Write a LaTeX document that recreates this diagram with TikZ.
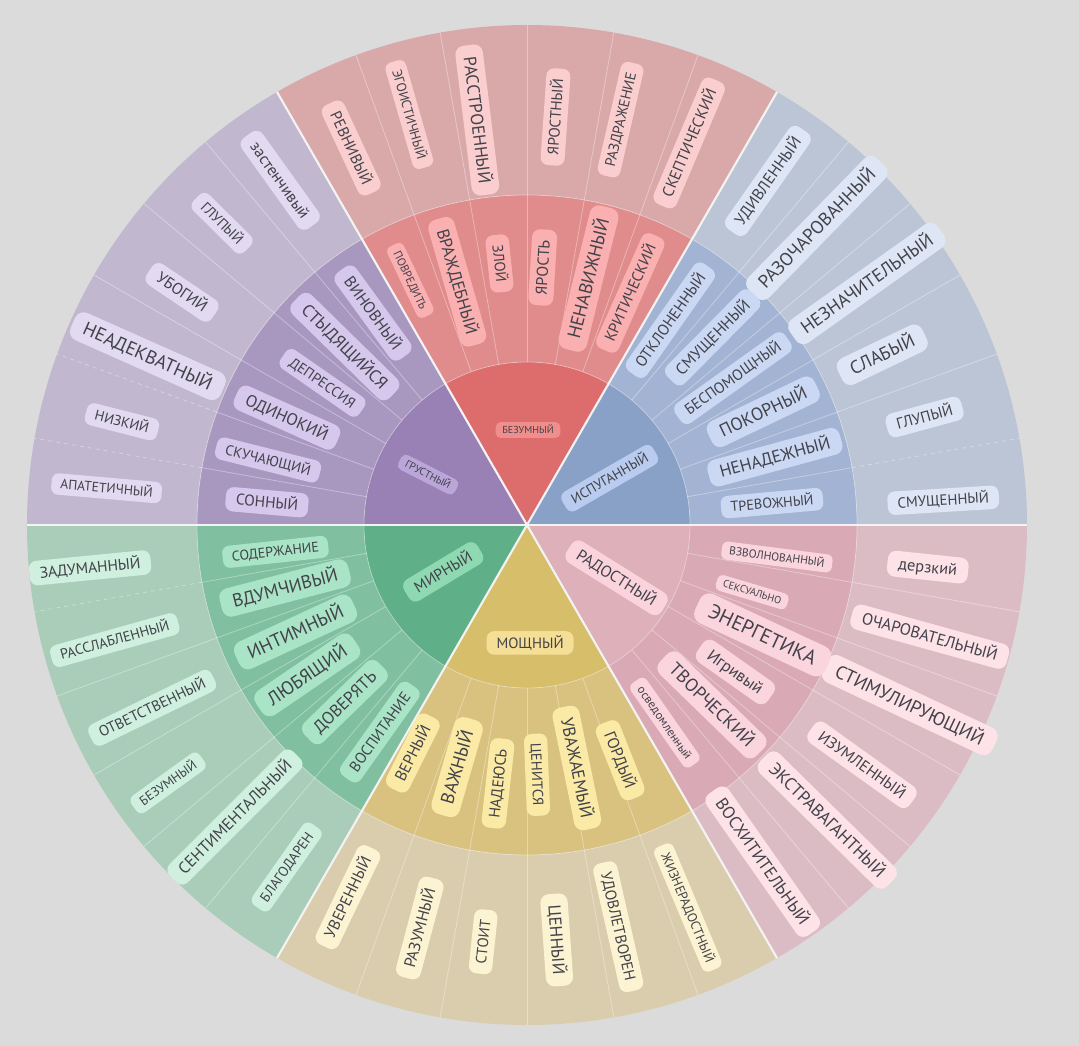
\documentclass[tikz,border=0pt]{standalone}
\usepackage{fontspec}
\setmainfont{PT Sans}[Scale=0.9]
\definecolor{bg}{RGB}{219,219,219}
\definecolor{ink}{RGB}{66,66,74}
\definecolor{redA}{RGB}{221,108,108}
\definecolor{redB}{RGB}{224,140,140}
\definecolor{redC}{RGB}{217,169,169}
\definecolor{redP}{RGB}{240,142,140}
\definecolor{redQ}{RGB}{250,176,176}
\definecolor{redR}{RGB}{250,206,206}
\definecolor{blueA}{RGB}{137,161,199}
\definecolor{blueB}{RGB}{162,179,211}
\definecolor{blueC}{RGB}{188,197,214}
\definecolor{blueP}{RGB}{185,203,238}
\definecolor{blueQ}{RGB}{202,216,243}
\definecolor{blueR}{RGB}{222,230,245}
\definecolor{vioA}{RGB}{153,128,181}
\definecolor{vioB}{RGB}{168,152,192}
\definecolor{vioC}{RGB}{193,184,208}
\definecolor{vioP}{RGB}{186,166,216}
\definecolor{vioQ}{RGB}{214,199,236}
\definecolor{vioR}{RGB}{226,218,240}
\definecolor{greenA}{RGB}{95,176,136}
\definecolor{greenB}{RGB}{128,191,160}
\definecolor{greenC}{RGB}{169,205,184}
\definecolor{greenP}{RGB}{142,217,177}
\definecolor{greenQ}{RGB}{170,228,199}
\definecolor{greenR}{RGB}{207,240,223}
\definecolor{goldA}{RGB}{215,190,106}
\definecolor{goldB}{RGB}{217,194,128}
\definecolor{goldC}{RGB}{218,205,174}
\definecolor{goldP}{RGB}{245,223,150}
\definecolor{goldQ}{RGB}{250,234,166}
\definecolor{goldR}{RGB}{252,243,211}
\definecolor{roseA}{RGB}{221,176,186}
\definecolor{roseB}{RGB}{217,170,182}
\definecolor{roseC}{RGB}{220,188,196}
\definecolor{roseP}{RGB}{251,211,220}
\definecolor{roseQ}{RGB}{251,213,222}
\definecolor{roseR}{RGB}{253,227,232}
\tikzset{
  pill/.style={font=\fontsize{#1}{#1}\selectfont, text=ink, inner xsep=#1*0.6pt,
    inner ysep=#1*0.36pt, text height=#1*0.66pt, text depth=#1*0.04pt,
    rounded corners=#1*0.45pt},
  sub/.style={white, opacity=0.35, line width=0.6pt},
  gap/.style={white!65!bg, line width=1.6pt}
}

\begin{document}
\begin{tikzpicture}[x=0.75pt,y=0.75pt]
\useasboundingbox (-527,-521) rectangle (552,525);
\fill[bg] (-527,-521) rectangle (552,525);
\def\ri{163}
\def\rm{330}
\def\ro{500}
% rings, sector by sector
\foreach \s/\c in {60/red, 0/blue, 120/vio, 180/green, 240/gold, 300/rose}
{
  \fill[\c A] (0,0) -- (\s:\ri) arc[start angle=\s, end angle=\s+60, radius=\ri] -- cycle;
  \fill[\c B] (\s:\ri) arc[start angle=\s, end angle=\s+60, radius=\ri]
    -- (\s+60:\rm) arc[start angle=\s+60, end angle=\s, radius=\rm] -- cycle;
  \fill[\c C] (\s:\rm) arc[start angle=\s, end angle=\s+60, radius=\rm]
    -- (\s+60:\ro) arc[start angle=\s+60, end angle=\s, radius=\ro] -- cycle;
}
\foreach \a in {0,10,...,350}
  \draw[sub] (\a:\ri) -- (\a:\rm);
\foreach \a in {20,30,40,50,70,80,90,100,110,130,140,150,200,210,220,230,250,260,270,280,290,310,320,330,340,350}
  \draw[sub] (\a:\rm) -- (\a:\ro);
\foreach \a in {10,160,170,190}
  \draw[sub, dashed] (\a:\rm) -- (\a:\ro);
\draw[sub] (0,0) circle[radius=\ri];
\draw[sub] (0,0) circle[radius=\rm];
\foreach \a in {0,60,...,300}
  \draw[gap] (0,0) -- (\a:\ro);

% outer and middle labels
\foreach \a/\r/\s/\t [count=\i] in {115/416/12.9/РЕВНИВЫЙ, 106/427/11.2/ЭГОИСТИЧНЫЙ,
  97/408/14.6/РАССТРОЕННЫЙ, 86/409/12.7/ЯРОСТНЫЙ, 77/416/12.2/РАЗДРАЖЕНИЕ,
  67/415/13.2/СКЕПТИЧЕСКИЙ}
{
  \pgfmathsetmacro\rot{cos(\a)<0 ? \a-180 : \a}
  \node[pill=\s, fill=redR, rotate=\rot] (red-o\i) at (\a:\r) {\t};
}
\foreach \a/\r/\s/\t [count=\i] in {115.5/271/9.6/ПОВРЕДИТЬ, 106/253/14.2/ВРАЖДЕБНЫЙ,
  96/263/12.4/ЗЛОЙ, 86.5/258/13.2/ЯРОСТЬ, 76/254/15.4/НЕНАВИЖНЫЙ,
  66/254/12.9/КРИТИЧЕСКИЙ}
{
  \pgfmathsetmacro\rot{cos(\a)<0 ? \a-180 : \a}
  \node[pill=\s, fill=redQ, rotate=\rot] (red-m\i) at (\a:\r) {\t};
}
\foreach \a/\r/\s/\t [count=\i] in {55/420/13.4/УДИВЛЕННЫЙ, 45.7/415/15.3/РАЗОЧАРОВАННЫЙ,
  35.4/417/15.2/НЕЗНАЧИТЕЛЬНЫЙ, 25.6/394/15.3/СЛАБЫЙ, 15.2/412/12.9/ГЛУПЫЙ,
  3.4/417/12.4/СМУЩЕННЫЙ}
{
  \pgfmathsetmacro\rot{cos(\a)<0 ? \a-180 : \a}
  \node[pill=\s, fill=blueR, rotate=\rot] (blue-o\i) at (\a:\r) {\t};
}
\foreach \a/\r/\s/\t [count=\i] in {55/250/12.9/ОТКЛОНЕННЫЙ, 45.3/264/13.3/СМУЩЕННЫЙ,
  35.5/253/12.7/БЕСПОМОЩНЫЙ, 25.6/262/14.9/ПОКОРНЫЙ, 15.3/257/14.4/НЕНАДЕЖНЫЙ,
  5.1/246/11.9/ТРЕВОЖНЫЙ}
{
  \pgfmathsetmacro\rot{cos(\a)<0 ? \a-180 : \a}
  \node[pill=\s, fill=blueQ, rotate=\rot] (blue-m\i) at (\a:\r) {\t};
}
\foreach \a/\r/\s/\t [count=\i] in {125.6/424/13.5/застенчивый, 135.3/429/11.9/ГЛУПЫЙ,
  146/416/13.3/УБОГИЙ, 156/415/15.7/НЕАДЕКВАТНЫЙ, 165.7/418/11.9/НИЗКИЙ,
  175/422/11.3/АПАТЕТИЧНЫЙ}
{
  \pgfmathsetmacro\rot{cos(\a)<0 ? \a-180 : \a}
  \node[pill=\s, fill=vioR, rotate=\rot] (vio-o\i) at (\a:\r) {\t};
}
\foreach \a/\r/\s/\t [count=\i] in {126/262/13.4/ВИНОВНЫЙ, 135.6/255/14.4/СТЫДЯЩИЙСЯ,
  145.2/249/12/ДЕПРЕССИЯ, 155.9/263/13.9/ОДИНОКИЙ, 165.9/267/12/СКУЧАЮЩИЙ,
  175/261/12.9/СОННЫЙ}
{
  \pgfmathsetmacro\rot{cos(\a)<0 ? \a-180 : \a}
  \node[pill=\s, fill=vioQ, rotate=\rot] (vio-m\i) at (\a:\r) {\t};
}
\foreach \a/\r/\s/\t [count=\i] in {185.6/439/13/ЗАДУМАННЫЙ, 195.6/428/11.9/РАССЛАБЛЕННЫЙ,
  206/417/12.4/ОТВЕТСТВЕННЫЙ, 215.7/442/10.9/БЕЗУМНЫЙ, 225/413/13.6/СЕНТИМЕНТАЛЬНЫЙ,
  234.9/418/11.6/БЛАГОДАРЕН}
{
  \pgfmathsetmacro\rot{cos(\a)<0 ? \a-180 : \a}
  \node[pill=\s, fill=greenR, rotate=\rot] (green-o\i) at (\a:\r) {\t};
}
\foreach \a/\r/\s/\t [count=\i] in {186.1/253/11.7/СОДЕРЖАНИЕ, 194.6/250/15.3/ВДУМЧИВЫЙ,
  204.8/255/15.7/ИНТИМНЫЙ, 214.3/266/15.6/ЛЮБЯЩИЙ, 224.2/254/14.3/ДОВЕРЯТЬ,
  234.6/254/12.7/ВОСПИТАНИЕ}
{
  \pgfmathsetmacro\rot{cos(\a)<0 ? \a-180 : \a}
  \node[pill=\s, fill=greenQ, rotate=\rot] (green-m\i) at (\a:\r) {\t};
}
\foreach \a/\r/\s/\t [count=\i] in {244.3/413/13.2/УВЕРЕННЫЙ, 255.1/417/13.4/РАЗУМНЫЙ,
  264/419/12.4/СТОИТ, 274.1/416/14.4/ЦЕННЫЙ, 282.8/412/12.9/УДОВЛЕТВОРЕН,
  292.8/415/11/ЖИЗНЕРАДОСТНЫЙ}
{
  \pgfmathsetmacro\rot{cos(\a)<0 ? \a-180 : \a}
  \node[pill=\s, fill=goldR, rotate=\rot] (gold-o\i) at (\a:\r) {\t};
}
\foreach \a/\r/\s/\t [count=\i] in {243.4/255/13.3/ВЕРНЫЙ, 253.9/252/15.4/ВАЖНЫЙ,
  263.6/260/12.9/НАДЕЮСЬ, 272.3/250/12.3/ЦЕНИТСЯ, 281.6/248/14.4/УВАЖАЕМЫЙ,
  291.6/253/13.4/ГОРДЫЙ}
{
  \pgfmathsetmacro\rot{cos(\a)<0 ? \a-180 : \a}
  \node[pill=\s, fill=goldQ, rotate=\rot] (gold-m\i) at (\a:\r) {\t};
}
\foreach \a/\r/\s/\t [count=\i] in {354/403/13.7/дерзкий, 344.5/418/13.6/ОЧАРОВАТЕЛЬНЫЙ,
  334.8/423/15.6/СТИМУЛИРУЮЩИЙ, 324.4/412/13.2/ИЗУМЛЕННЫЙ, 315.5/421/14.6/ЭКСТРАВАГАНТНЫЙ,
  305/411/14.3/ВОСХИТИТЕЛЬНЫЙ}
{
  \pgfmathsetmacro\rot{cos(\a)<0 ? \a-180 : \a}
  \node[pill=\s, fill=roseR, rotate=\rot] (rose-o\i) at (\a:\r) {\t};
}
\foreach \a/\r/\s/\t [count=\i] in {352.7/252/9.6/ВЗВОЛНОВАННЫЙ, 343.4/235/8.6/СЕКСУАЛЬНО,
  335/260/16.9/ЭНЕРГЕТИКА, 324.8/255/13.9/Игривый, 315.8/258/15.2/ТВОРЧЕСКИЙ,
  304.9/241/10.2/осведомленный}
{
  \pgfmathsetmacro\rot{cos(\a)<0 ? \a-180 : \a}
  \node[pill=\s, fill=roseQ, rotate=\rot] (rose-m\i) at (\a:\r) {\t};
}

% core
\node[pill=8.4, fill=redP] (red) at (89.4:95) {БЕЗУМНЫЙ};
\node[pill=11.6, fill=blueP, rotate=30] (blue) at (29.5:95) {ИСПУГАННЫЙ};
\node[pill=8.7, fill=vioP, rotate=-27] (vio) at (153:111) {ГРУСТНЫЙ};
\node[pill=13, fill=greenP, rotate=31] (green) at (209.2:96) {МИРНЫЙ};
\node[pill=12.4, fill=goldP] (gold) at (271.5:118) {МОЩНЫЙ};
\node[pill=13.4, fill=roseP, rotate=-32] (rose) at (329.5:104) {РАДОСТНЫЙ};
\end{tikzpicture}
\end{document}
